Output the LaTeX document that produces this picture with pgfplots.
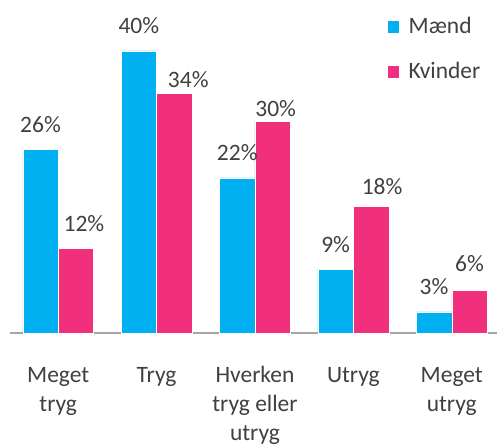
\documentclass[border=0pt]{standalone}
\usepackage{fontspec}
\setmainfont{Carlito}
\usepackage{pgfplots}
\usepackage{pgfplotstable}
\pgfplotsset{compat=1.18}
\definecolor{maend}{HTML}{00B0F0}
\definecolor{kvinder}{HTML}{F0307C}
\definecolor{txt}{HTML}{404040}
\definecolor{axisgray}{HTML}{A6A6A6}

% x, value, label offsets (bp)
\pgfplotstableread{
x y  dx dy
0 26 0  17
1 40 0  17
2 22 0  17
3 9  0  17
4 3  0  17
}\maend
\pgfplotstableread{
x y  dx dy
0 12 8  17
1 34 14 6
2 30 3  5
3 18 11 12
4 6  0  19
}\kvinder

\begin{document}
\begin{tikzpicture}
\begin{axis}[
    name=ax,
    scale only axis,
    width=487bp, height=333bp,
    ybar=0pt, bar width=0.36,
    xmin=-0.49, xmax=4.46,
    ymin=0, ymax=47.2,
    axis x line*=bottom, axis y line=none,
    x axis line style={draw=axisgray, line width=1.2bp},
    xtick={0,...,4},
    xticklabels={{\strut Meget\\tryg}, {\strut Tryg}, {\strut Hverken\\tryg eller\\utryg}, {\strut Utryg}, {\strut Meget\\utryg}},
    major tick length=0pt,
    xticklabel style={align=center, anchor=north, inner sep=0pt, yshift=-28.7bp,
        font=\fontsize{23.5bp}{29bp}\selectfont, text=txt},
    visualization depends on={\thisrow{dx} \as \dx},
    visualization depends on={\thisrow{dy} \as \dy},
    nodes near coords={\pgfmathprintnumber{\pgfplotspointmeta}\%},
    every node near coord/.append style={font=\fontsize{23.5bp}{29bp}\selectfont,
        text=txt, anchor=base, xshift={\dx*1bp}, yshift={\dy*1bp}},
    /pgf/number format/assume math mode=true,
    legend image code/.code={\fill[#1] (0bp,-9bp) rectangle (12bp,4bp);},
    legend cell align=left,
    legend style={at={(rel axis cs:0.7741,0.955)}, anchor=north west,
        draw=none, fill=none, inner sep=0pt, row sep=27bp, column sep=9bp,
        nodes={inner sep=0pt, text height=18bp, text depth=0bp},
        font=\fontsize{23.5bp}{29bp}\selectfont, text=txt},
    clip=false,
]
\addplot[fill=maend, draw=white, line width=0.5bp] table[x=x, y=y] {\maend};
\addplot[fill=kvinder, draw=white, line width=0.5bp] table[x=x, y=y] {\kvinder};
\legend{Mænd, Kvinder}
\end{axis}
\pgfresetboundingbox
\path ([shift={(-10bp,-112bp)}]ax.south west) rectangle (ax.north east);
\end{tikzpicture}
\end{document}
